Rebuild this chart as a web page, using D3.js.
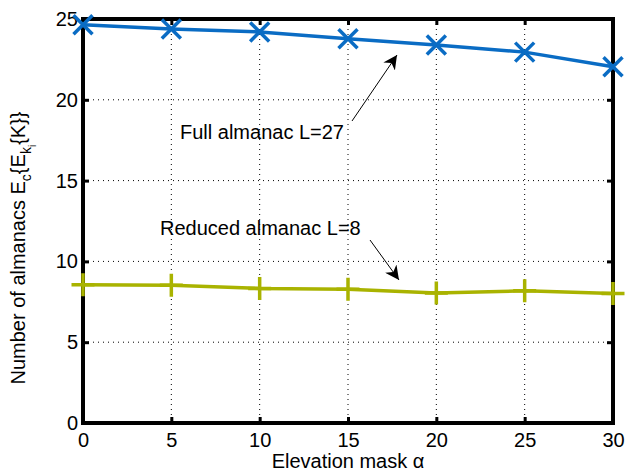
<!DOCTYPE html>
<html><head><meta charset="utf-8">
<script src="https://cdn.jsdelivr.net/npm/d3@7"></script>
<style>body{margin:0;background:#fff}svg{display:block}text{font-family:"Liberation Sans",Arial,sans-serif;fill:#000}</style>
</head><body><svg id="c" width="626" height="472"></svg>
<script>
const elevation = [0, 5, 10, 15, 20, 25, 30];
const fullAlmanac = [24.65, 24.38, 24.2, 23.78, 23.39, 22.95, 22.05];
const reducedAlmanac = [8.55, 8.52, 8.33, 8.28, 8.05, 8.18, 8.02];
const xTicks = [0, 5, 10, 15, 20, 25, 30];
const yTicks = [0, 5, 10, 15, 20, 25];

const svg = d3.select("#c");
const L = 83, R = 613, T = 19, B = 423;
const x = d3.scaleLinear().domain([0, 30]).range([L, R]);
const y = d3.scaleLinear().domain([0, 25]).range([B, T]);

// grid
const g = svg.append("g");
g.selectAll(".vg").data(xTicks.slice(1, -1)).enter().append("line")
  .attr("x1", d => x(d)).attr("x2", d => x(d)).attr("y1", T).attr("y2", B)
  .attr("stroke", "#000").attr("stroke-width", 1).attr("stroke-dasharray", "1,4");
g.selectAll(".hg").data(yTicks.slice(1, -1)).enter().append("line")
  .attr("y1", d => y(d)).attr("y2", d => y(d)).attr("x1", L).attr("x2", R)
  .attr("stroke", "#000").attr("stroke-width", 1).attr("stroke-dasharray", "1,4");

// axes (ticks inward)
const xa = svg.append("g").attr("transform", `translate(0,${B})`)
  .call(d3.axisBottom(x).tickValues(xTicks).tickSizeInner(-6).tickSizeOuter(0).tickPadding(10));
const xt = svg.append("g").attr("transform", `translate(0,${T})`)
  .call(d3.axisTop(x).tickValues(xTicks).tickSizeInner(-6).tickSizeOuter(0).tickFormat(""));
const ya = svg.append("g").attr("transform", `translate(${L},0)`)
  .call(d3.axisLeft(y).tickValues(yTicks).tickSizeInner(-6).tickSizeOuter(0).tickPadding(5));
const yr = svg.append("g").attr("transform", `translate(${R},0)`)
  .call(d3.axisRight(y).tickValues(yTicks).tickSizeInner(-6).tickSizeOuter(0).tickFormat(""));
[xa, xt, ya, yr].forEach(a => {
  a.select(".domain").remove();
  a.selectAll(".tick line").attr("stroke", "#000").attr("stroke-width", 3);
  a.selectAll("text").style("font-size", "20px").style("font-family", "Liberation Sans, Arial, sans-serif").attr("fill", "#000");
});

// box
svg.append("rect").attr("x", L).attr("y", T).attr("width", R - L).attr("height", B - T)
  .attr("fill", "none").attr("stroke", "#000").attr("stroke-width", 4);

// series
const line = d3.line().x((d, i) => x(elevation[i])).y(d => y(d));
const blue = "#0a6cc4", olive = "#a9b300";
svg.append("path").datum(fullAlmanac).attr("d", line).attr("fill", "none").attr("stroke", blue).attr("stroke-width", 3.5);
svg.append("path").datum(reducedAlmanac).attr("d", line).attr("fill", "none").attr("stroke", olive).attr("stroke-width", 3.5);

const s = 9.5;
svg.selectAll(".xm").data(fullAlmanac).enter().append("path")
  .attr("d", (d, i) => { const cx = x(elevation[i]), cy = y(d);
    return `M${cx - s},${cy - s}L${cx + s},${cy + s}M${cx - s},${cy + s}L${cx + s},${cy - s}`; })
  .attr("stroke", blue).attr("stroke-width", 3.5).attr("fill", "none");
const p = 11.5;
svg.selectAll(".pm").data(reducedAlmanac).enter().append("path")
  .attr("d", (d, i) => { const cx = x(elevation[i]), cy = y(d);
    return `M${cx - p},${cy}L${cx + p},${cy}M${cx},${cy - p}L${cx},${cy + p}`; })
  .attr("stroke", olive).attr("stroke-width", 3.5).attr("fill", "none");

// annotations
const defs = svg.append("defs");
defs.append("marker").attr("id", "ah").attr("viewBox", "0 0 10 10").attr("refX", 10).attr("refY", 5)
  .attr("markerWidth", 14).attr("markerHeight", 14).attr("markerUnits", "userSpaceOnUse").attr("orient", "auto")
  .append("path").attr("d", "M0,0L10,5L0,10L3,5Z").attr("fill", "#000");
svg.append("line").attr("x1", 352).attr("y1", 121).attr("x2", 397).attr("y2", 55)
  .attr("stroke", "#000").attr("stroke-width", 1).attr("marker-end", "url(#ah)");
svg.append("line").attr("x1", 370).attr("y1", 240).attr("x2", 399).attr("y2", 280)
  .attr("stroke", "#000").attr("stroke-width", 1).attr("marker-end", "url(#ah)");
svg.append("text").attr("x", 180).attr("y", 139).style("font-size", "20px").text("Full almanac L=27");
svg.append("text").attr("x", 160).attr("y", 235).style("font-size", "20px").text("Reduced almanac L=8");

// axis labels
svg.append("text").attr("x", (L + R) / 2).attr("y", 468).attr("text-anchor", "middle").style("font-size", "20px")
  .text("Elevation mask α");
const yl = svg.append("text").attr("transform", "translate(25,248) rotate(-90)").attr("text-anchor", "middle").style("font-size", "20px");
yl.append("tspan").text("Number of almanacs E");
yl.append("tspan").attr("dy", 6).style("font-size", "14px").text("c");
yl.append("tspan").attr("dy", -6).text("{E");
yl.append("tspan").attr("dy", 6).style("font-size", "14px").text("k");
yl.append("tspan").attr("dy", 5).style("font-size", "10px").text("i");
yl.append("tspan").attr("dy", -11).text("{K}}");
</script></body></html>
